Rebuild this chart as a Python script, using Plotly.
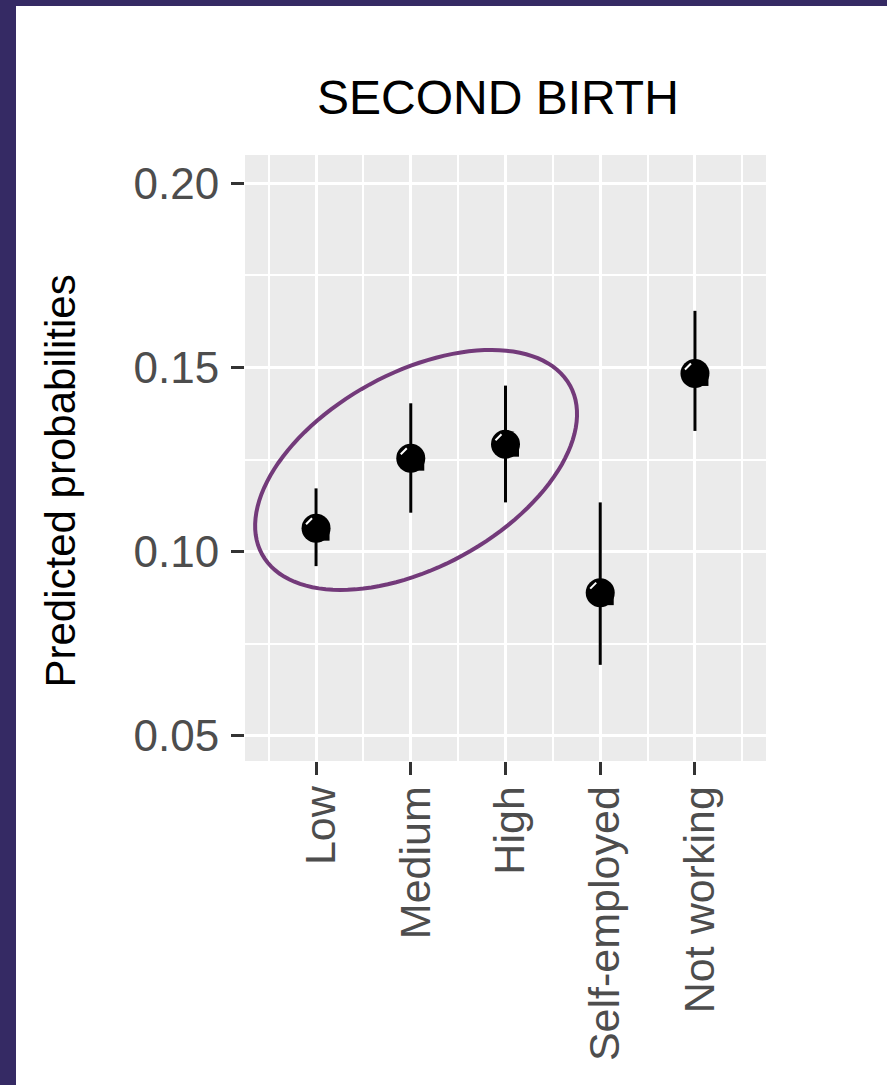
import numpy as np
import plotly.graph_objects as go

# ---- data ----
categories = ["Low", "Medium", "High", "Self-employed", "Not working"]
prob = [0.1064, 0.1254, 0.1292, 0.0889, 0.1484]
upper = [0.1172, 0.1403, 0.1451, 0.1134, 0.1654]
lower = [0.0961, 0.1106, 0.1134, 0.0693, 0.1328]
y_ticks = [0.05, 0.10, 0.15, 0.20]
y_minor = [0.075, 0.125, 0.175]
x_minor = [0.5, 1.5, 2.5, 3.5, 4.5, 5.5]

# ---- layout geometry ----
W, H = 887, 1085
L, R, T, B = 245, 121, 155, 324
PW, PH = W - L - R, H - T - B
XR = [0.25, 5.75]
YR = [0.0432, 0.2077]
px_per_x = PW / (XR[1] - XR[0])
px_per_y = PH / (YR[1] - YR[0])

def px_x(p):
    return (p - L) / PW

def px_y(p):
    return (H - B - p) / PH

xpos = list(range(1, len(categories) + 1))
err_up = [u - p for u, p in zip(upper, prob)]
err_dn = [p - l for l, p in zip(lower, prob)]

FONT = "Liberation Sans, Arial, sans-serif"

fig = go.Figure()
fig.add_trace(go.Scatter(
    x=xpos, y=prob, mode="markers",
    marker=dict(size=29, color="black"),
    error_y=dict(type="data", symmetric=False, array=err_up, arrayminus=err_dn,
                 thickness=3, width=0, color="black"),
    showlegend=False, hoverinfo="skip",
))
# hand-drawn look of the point glyphs: small square notch and a white shine
fig.add_trace(go.Scatter(
    x=[v + 6 / px_per_x for v in xpos], y=[p - 5 / px_per_y for p in prob],
    mode="markers", marker=dict(symbol="square", size=15, color="black"),
    showlegend=False, hoverinfo="skip",
))
fig.add_trace(go.Scatter(
    x=[v - 7 / px_per_x for v in xpos], y=[p + 7 / px_per_y for p in prob],
    mode="markers",
    marker=dict(symbol="line-ne", size=6, color="white",
                line=dict(color="white", width=2)),
    showlegend=False, hoverinfo="skip",
))

# highlight ellipse around the three education groups (center in data units, axes in px)
ell_cx, ell_cy = 2.056, 0.1222
ell_a, ell_b, ell_theta = 175.6, 97.3, np.deg2rad(-28.7)
t = np.linspace(0, 2 * np.pi, 121)
ex = ell_a * np.cos(ell_theta) * np.cos(t) - ell_b * np.sin(ell_theta) * np.sin(t)
ey = ell_a * np.sin(ell_theta) * np.cos(t) + ell_b * np.cos(ell_theta) * np.sin(t)
xs = ell_cx + ex / px_per_x
ys = ell_cy - ey / px_per_y
path = "M " + " L ".join(f"{a:.5f},{b:.6f}" for a, b in zip(xs, ys)) + " Z"

shapes = [
    dict(type="path", path=path, xref="x", yref="y",
         line=dict(color="#733A7A", width=4), fillcolor="rgba(0,0,0,0)", layer="above"),
    # dark frame on left and top
    dict(type="rect", xref="paper", yref="paper",
         x0=px_x(0), x1=px_x(16), y0=px_y(H), y1=px_y(0),
         fillcolor="#352A64", line=dict(width=0), layer="above"),
    dict(type="rect", xref="paper", yref="paper",
         x0=px_x(0), x1=px_x(W), y0=px_y(6), y1=px_y(0),
         fillcolor="#352A64", line=dict(width=0), layer="above"),
]

annotations = [
    dict(text="SECOND BIRTH", xref="paper", yref="paper",
         x=px_x(497.5), y=px_y(98), xanchor="center", yanchor="middle",
         showarrow=False, font=dict(family=FONT, size=48, color="black")),
    dict(text="Predicted probabilities", xref="paper", yref="paper",
         x=px_x(60), y=px_y(481.5), xanchor="center", yanchor="middle",
         textangle=-90, showarrow=False,
         font=dict(family=FONT, size=42, color="black")),
]

fig.update_layout(
    width=W, height=H,
    margin=dict(l=L, r=R, t=T, b=B, pad=0),
    paper_bgcolor="white", plot_bgcolor="#EBEBEB",
    font=dict(family=FONT, color="#4D4D4D"),
    shapes=shapes, annotations=annotations,
    showlegend=False,
)
fig.update_xaxes(
    range=XR, tickmode="array", tickvals=xpos, ticktext=categories,
    tickangle=-90, tickfont=dict(family=FONT, size=43, color="#4D4D4D"),
    ticklabelshift=5, ticklabelstandoff=-6,
    ticks="outside", ticklen=13, tickwidth=3, tickcolor="#333333",
    showgrid=True, gridcolor="white", gridwidth=3,
    minor=dict(tickmode="array", tickvals=x_minor, showgrid=True,
               gridcolor="white", gridwidth=2, ticks=""),
    zeroline=False, showline=False, fixedrange=True,
)
fig.update_yaxes(
    range=YR, tickmode="array", tickvals=y_ticks,
    ticktext=[f"{v:.2f}" for v in y_ticks],
    tickfont=dict(family=FONT, size=44, color="#4D4D4D"),
    ticklabelstandoff=3,
    ticks="outside", ticklen=13, tickwidth=3, tickcolor="#333333",
    showgrid=True, gridcolor="white", gridwidth=3,
    minor=dict(tickmode="array", tickvals=y_minor, showgrid=True,
               gridcolor="white", gridwidth=2, ticks=""),
    zeroline=False, showline=False, fixedrange=True,
)

fig.write_html("out.html", config={"displayModeBar": False},
               post_script="document.body.style.margin='0';document.body.style.overflow='hidden';")
